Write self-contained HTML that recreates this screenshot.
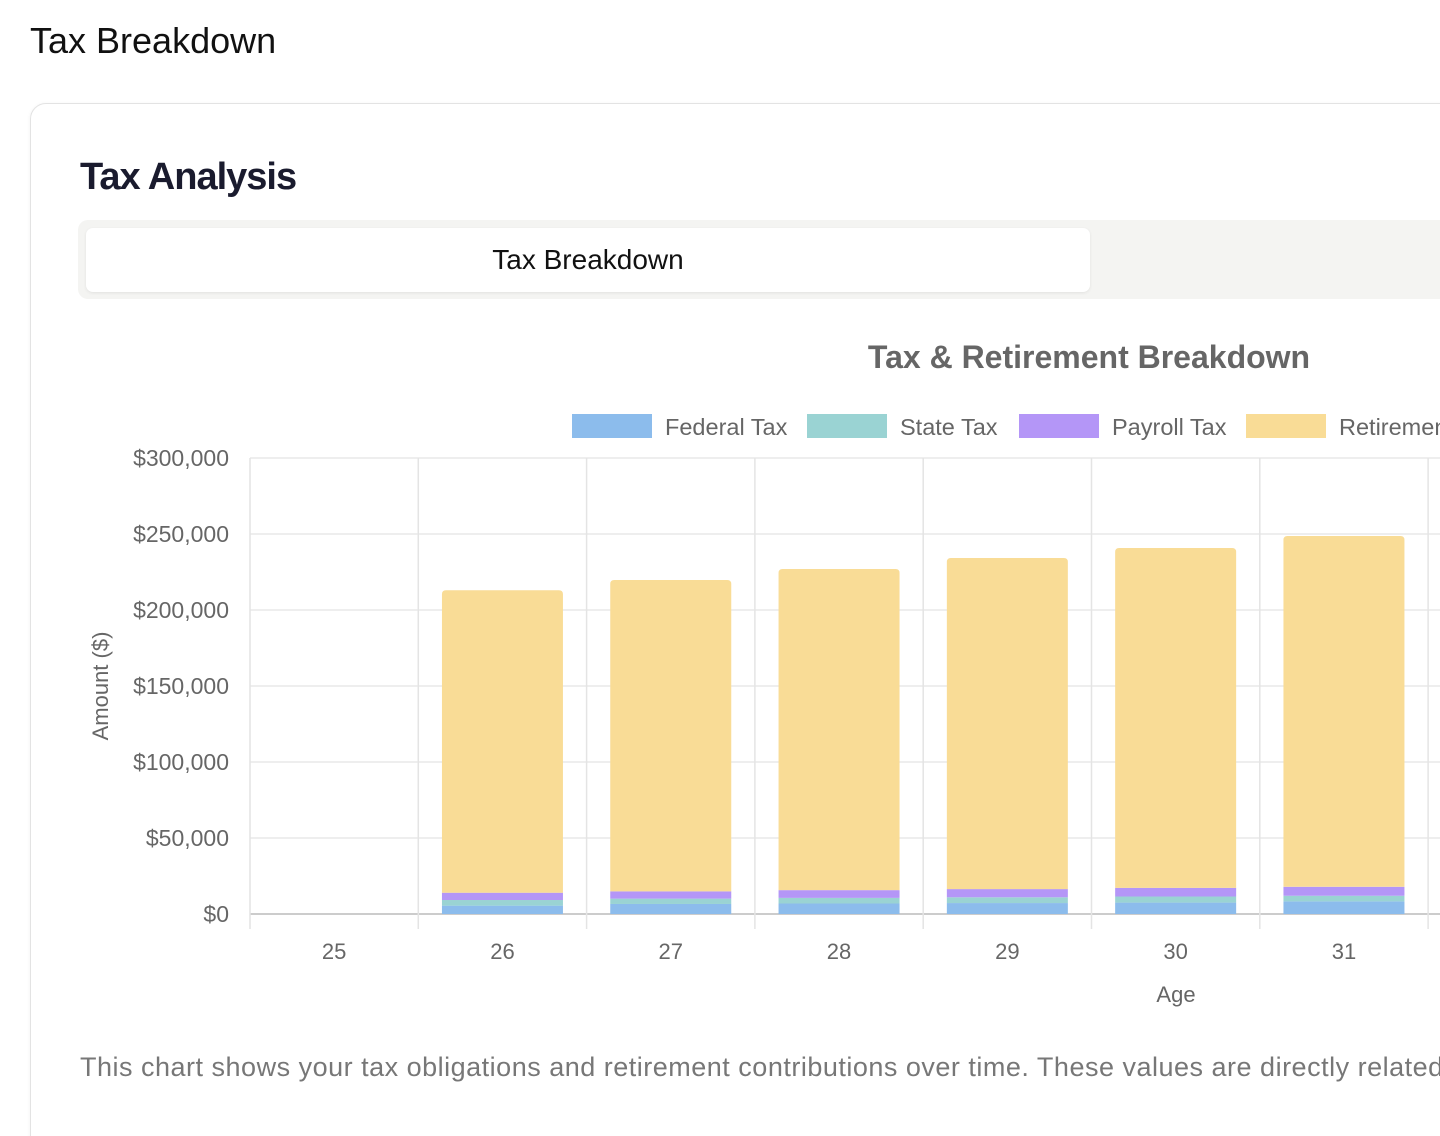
<!DOCTYPE html>
<html><head><meta charset="utf-8">
<style>
html,body{margin:0;padding:0;width:1440px;height:1136px;overflow:hidden;background:#fff;font-family:"Liberation Sans",sans-serif;}
#wrap{position:relative;width:1440px;height:1136px;overflow:hidden;}
.h{position:absolute;left:30px;top:20px;font-size:36px;color:#111;}
.card{position:absolute;left:30px;top:103px;width:1440px;height:1060px;border:1.5px solid #e3e3e3;border-radius:16px;box-shadow:0 1px 4px rgba(0,0,0,0.06);}
.t{position:absolute;left:80px;top:156px;font-size:38px;font-weight:bold;color:#1a1b2e;letter-spacing:-1px;}
.tabs{position:absolute;left:78px;top:220px;width:1400px;height:79px;background:#f4f4f2;border-radius:10px;}
.tab{position:absolute;left:8px;top:8px;width:1004px;height:64px;background:#fff;border-radius:7px;box-shadow:0 1px 3px rgba(0,0,0,0.08);font-size:28px;color:#111;text-align:center;line-height:64px;}
svg{position:absolute;left:0;top:0;}
.foot{position:absolute;left:80px;top:1052px;font-size:27px;letter-spacing:0.5px;color:#777;white-space:nowrap;width:1360px;overflow:hidden;}
</style></head><body>
<div id="wrap">
<div class="h">Tax Breakdown</div>
<div class="card"></div>
<div class="t">Tax Analysis</div>
<div class="tabs"><div class="tab">Tax Breakdown</div></div>
<svg id="chart" width="1440" height="1136"></svg>
<div class="foot">This chart shows your tax obligations and retirement contributions over time. These values are directly related to your income.</div>
</div>
<script>
const categories=[25,26,27,28,29,30,31,32,33,34,35];
const federal=[0,5500,6600,6900,7200,7500,8300,8600,9000,9300,9700];
const stateTax=[0,3700,3500,3700,3800,4000,3700,3900,4000,4100,4200];
const payroll=[0,4800,4800,5100,5400,5700,5900,6100,6300,6500,6700];
const retirement=[0,199000,204800,211300,217800,223600,230800,238000,245000,252000,259000];
const yTicks=[0,50000,100000,150000,200000,250000,300000];
const seriesNames=["Federal Tax","State Tax","Payroll Tax","Retirement Contributions"];
const colors=["#8cbcec","#9ad3d3","#b496f7","#f9dc96"];
const NS="http://www.w3.org/2000/svg";
const svg=document.getElementById('chart');
const L=250,R=250+168.3*categories.length,T=458,B=914,yMax=300000;
const y=v=>B-(v/yMax)*(B-T);
const step=(R-L)/categories.length;
const xc=i=>L+step*(i+0.5);
function mk(tag,attrs,txt){const e=document.createElementNS(NS,tag);for(const k in attrs)e.setAttribute(k,attrs[k]);if(txt!==undefined)e.textContent=txt;svg.appendChild(e);return e;}
const F='"Liberation Sans",sans-serif';
yTicks.forEach(v=>{
 const l=mk('line',{x1:L,x2:R,y1:y(v),y2:y(v),stroke:v===0?'#ccc':'#e4e4e4','stroke-width':v===0?2:1.3});
 
 
 const t=mk('text',{x:229,y:y(v)+8,'text-anchor':'end','font-size':23,fill:'#666','font-family':F},'$'+v.toLocaleString('en-US'));
 
 
});
for(let i=0;i<=categories.length;i++){
 const x=L+step*i;
 const l=mk('line',{x1:x,x2:x,y1:T,y2:B+15,stroke:'#e4e4e4','stroke-width':1.5});
 
 
}
categories.forEach((c,i)=>{
 const t=mk('text',{x:xc(i),y:959,'text-anchor':'middle','font-size':22,fill:'#666','font-family':F},c);
 
 
});
const bw=121;
const series=[federal,stateTax,payroll,retirement];
categories.forEach((c,i)=>{
 let base=0;
 series.forEach((s,k)=>{
  const v=s[i]; if(!v){return;}
  const y0=y(base),y1=y(base+v);
  let el;
  if(k===3){
   const x0=xc(i)-bw/2,r=4;
   el=mk('path',{d:`M${x0},${y0}V${y1+r}Q${x0},${y1} ${x0+r},${y1}H${x0+bw-r}Q${x0+bw},${y1} ${x0+bw},${y1+r}V${y0}Z`,fill:colors[k]});
  } else {
   el=mk('rect',{x:xc(i)-bw/2,y:y1,width:bw,height:y0-y1,fill:colors[k]});
  }
  
  
  base+=v;
 });
});
const tt=mk('text',{x:1089,y:368,'text-anchor':'middle','font-size':32,'font-weight':'bold',fill:'#666','font-family':F},'Tax & Retirement Breakdown');


const yt=mk('text',{x:0,y:0,'text-anchor':'middle','font-size':22,fill:'#666','font-family':F,transform:'translate(108,686) rotate(-90)'},'Amount ($)');


const xt=mk('text',{x:1176,y:1002,'text-anchor':'middle','font-size':22,fill:'#666','font-family':F},'Age');


const lx=[572,807,1019,1246];
seriesNames.forEach((n,k)=>{
 const r=mk('rect',{x:lx[k],y:414,width:80,height:24,fill:colors[k]});
 
 
 const t=mk('text',{x:lx[k]+93,y:435,'font-size':23.5,fill:'#666','font-family':F},n);
 
 
});
</script>
</body></html>
